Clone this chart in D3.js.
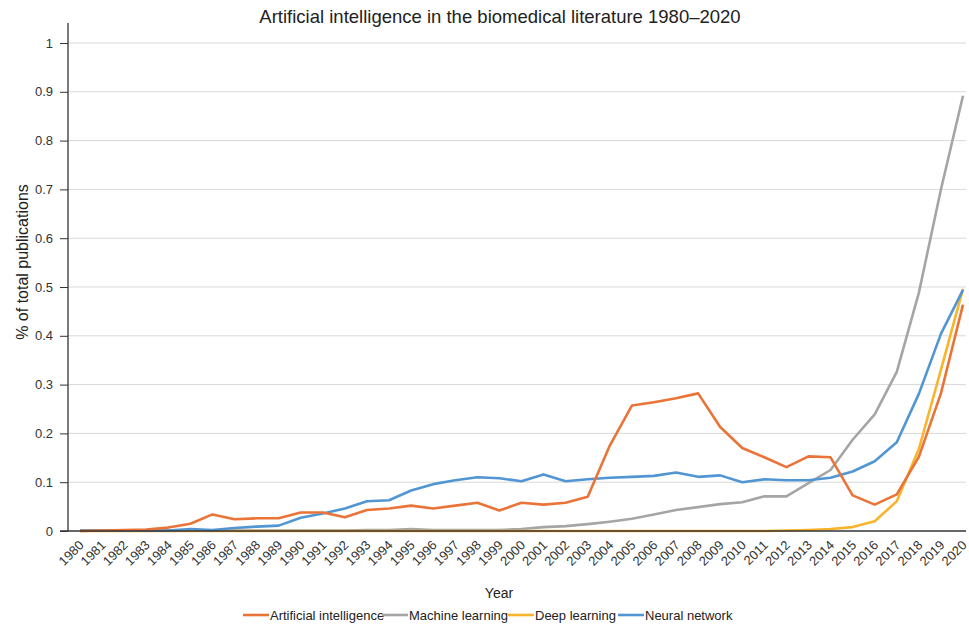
<!DOCTYPE html>
<html>
<head>
<meta charset="utf-8">
<script src="https://cdn.jsdelivr.net/npm/d3@7"></script>
<style>
  body { margin: 0; background: #fff; }
  svg { display: block; font-family: "Liberation Sans", Arial, sans-serif; }
</style>
</head>
<body>
<div id="chart"></div>
<script>
// years 1980..2020
var years = d3.range(1980, 2021);

var aiValues = [0.000, 0.001, 0.002, 0.003, 0.007, 0.015, 0.034, 0.024, 0.026, 0.026,
                0.038, 0.038, 0.028, 0.043, 0.046, 0.052, 0.046, 0.052, 0.058, 0.042,
                0.058, 0.054, 0.058, 0.070, 0.175, 0.257, 0.264, 0.272, 0.282, 0.213,
                0.170, 0.151, 0.131, 0.153, 0.151, 0.073, 0.054, 0.075, 0.152, 0.282, 0.464];
var mlValues = [0.001, 0.001, 0.001, 0.001, 0.001, 0.001, 0.001, 0.001, 0.001, 0.001,
                0.001, 0.001, 0.001, 0.002, 0.002, 0.004, 0.002, 0.002, 0.002, 0.002,
                0.004, 0.008, 0.010, 0.014, 0.019, 0.025, 0.034, 0.043, 0.049, 0.055,
                0.059, 0.071, 0.071, 0.098, 0.125, 0.187, 0.239, 0.326, 0.488, 0.700, 0.892];
var dlValues = [0, 0, 0, 0, 0, 0, 0, 0, 0, 0,
                0, 0, 0, 0, 0, 0, 0, 0, 0, 0,
                0, 0, 0, 0, 0, 0, 0, 0, 0, 0,
                0, 0, 0.001, 0.002, 0.004, 0.008, 0.020, 0.061, 0.168, 0.330, 0.496];
var nnValues = [0.001, 0.001, 0.001, 0.001, 0.001, 0.004, 0.002, 0.006, 0.009, 0.011,
                0.027, 0.036, 0.046, 0.061, 0.063, 0.083, 0.096, 0.104, 0.110, 0.108,
                0.102, 0.116, 0.102, 0.106, 0.109, 0.111, 0.113, 0.120, 0.111, 0.114,
                0.100, 0.106, 0.104, 0.104, 0.109, 0.122, 0.143, 0.182, 0.281, 0.404, 0.494];

var seriesNames = ["Artificial intelligence", "Machine learning", "Deep learning", "Neural network"];
var seriesColors = ["#EA7437", "#A5A5A5", "#F9B42D", "#5196D3"];
var yTicks = [0, 0.1, 0.2, 0.3, 0.4, 0.5, 0.6, 0.7, 0.8, 0.9, 1];

var series = [aiValues, mlValues, dlValues, nnValues].map(function(vals, i) {
    return { name: seriesNames[i], color: seriesColors[i], values: vals };
});

// draw order: grey under the others like the original
var drawOrder = [1, 2, 3, 0];

var width = 969, height = 625;
var svg = d3.select("#chart").append("svg")
    .attr("width", width)
    .attr("height", height);

var x = d3.scaleLinear().domain([1980, 2020]).range([80, 963]);
var y = d3.scaleLinear().domain([0, 1]).range([531, 43]);

// gridlines
svg.append("g").selectAll("line")
    .data(yTicks.slice(1))
    .enter().append("line")
    .attr("x1", 68).attr("x2", 966)
    .attr("y1", function(d) { return y(d); })
    .attr("y2", function(d) { return y(d); })
    .attr("stroke", "#d9d9d9")
    .attr("stroke-width", 1);

// y axis
var yAxis = svg.append("g")
    .attr("transform", "translate(68,0)")
    .call(d3.axisLeft(y).tickValues(yTicks).tickSize(8).tickPadding(7)
        .tickFormat(function(d) { return d3.format("~g")(d); }));
yAxis.select(".domain").remove();
yAxis.selectAll(".tick line").attr("stroke", "#333");
yAxis.selectAll("text").attr("font-size", "13px").attr("fill", "#333")
    .attr("font-family", "Liberation Sans, Arial, sans-serif");
svg.append("line")
    .attr("x1", 68).attr("x2", 68).attr("y1", 23).attr("y2", 531)
    .attr("stroke", "#333").attr("stroke-width", 1.3);

// lines
var line = d3.line()
    .x(function(d, i) { return x(years[i]); })
    .y(function(d) { return y(d); });

svg.append("g").selectAll("path")
    .data(drawOrder.map(function(i) { return series[i]; }))
    .enter().append("path")
    .attr("d", function(s) { return line(s.values); })
    .attr("fill", "none")
    .attr("stroke", function(s) { return s.color; })
    .attr("stroke-width", 2.6)
    .attr("stroke-linejoin", "round");

// x axis, labels turned 45 degrees
var xAxis = svg.append("g")
    .attr("transform", "translate(0,531)")
    .call(d3.axisBottom(x).tickValues(years).tickSize(0)
        .tickFormat(d3.format("d")));
xAxis.select(".domain").remove();
xAxis.selectAll("text")
    .attr("font-size", "13px").attr("fill", "#333")
    .attr("font-family", "Liberation Sans, Arial, sans-serif")
    .attr("text-anchor", "end")
    .attr("y", 0).attr("dy", 0)
    .attr("transform", "translate(4,15) rotate(-45)");
svg.append("line")
    .attr("x1", 60).attr("x2", 966).attr("y1", 531).attr("y2", 531)
    .attr("stroke", "#333").attr("stroke-width", 1.5);

// titles
svg.append("text")
    .attr("x", 500).attr("y", 23)
    .attr("text-anchor", "middle")
    .attr("font-size", "18.5px").attr("fill", "#222")
    .text("Artificial intelligence in the biomedical literature 1980\u20132020");

svg.append("text")
    .attr("x", 499).attr("y", 598)
    .attr("text-anchor", "middle")
    .attr("font-size", "14px").attr("fill", "#222")
    .text("Year");

svg.append("text")
    .attr("transform", "translate(28,262) rotate(-90)")
    .attr("text-anchor", "middle")
    .attr("font-size", "16px").attr("fill", "#222")
    .text("% of total publications");

// legend
var legendX = [243, 382, 508, 618];
var legend = svg.append("g").selectAll("g")
    .data(series)
    .enter().append("g")
    .attr("transform", function(d, i) { return "translate(" + legendX[i] + ",615)"; });
legend.append("line")
    .attr("x1", 0).attr("x2", 26).attr("y1", 0).attr("y2", 0)
    .attr("stroke", function(d) { return d.color; })
    .attr("stroke-width", 2.6);
legend.append("text")
    .attr("x", 27).attr("y", 0).attr("dy", "0.35em")
    .attr("font-size", "13px").attr("fill", "#222")
    .text(function(d) { return d.name; });
</script>
</body>
</html>
